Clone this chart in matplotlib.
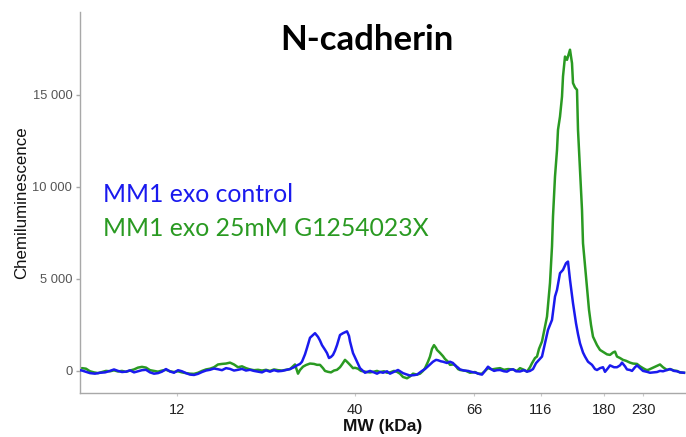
import matplotlib
matplotlib.use("Agg")
import matplotlib.pyplot as plt
from matplotlib.ticker import FuncFormatter

# Lane position (arbitrary migration units) and chemiluminescence signal
blue_pos = [78, 82, 86, 90, 95, 100, 105, 110, 114, 118, 122, 126, 130, 134, 138, 142, 146, 150, 154, 158,
            162, 166, 170, 174, 178, 182, 186, 190, 194, 198, 202, 206, 210, 214, 218, 222, 226, 230, 234, 238,
            242, 246, 250, 254, 258, 262, 266, 270, 274, 278, 282, 286, 290, 294, 297, 300, 302, 305, 307, 310,
            313, 315, 318, 320, 322, 325, 327, 329, 331, 333, 335, 337, 340, 343, 345, 347, 349, 350, 353, 357,
            360, 365, 370, 374, 377, 380, 383, 387, 390, 394, 398, 403, 406, 410, 414, 417, 420, 422, 425, 427,
            430, 433, 436, 438, 441, 443, 447, 450, 453, 455, 458, 460, 464, 468, 472, 476, 480, 482, 485, 488,
            491, 494, 497, 500, 504, 507, 510, 513, 516, 520, 524, 527, 530, 533, 536, 539, 542, 545, 548, 552,
            555, 557, 560, 563, 566, 568, 570, 573, 576, 578, 580, 583, 585, 588, 592, 595, 597, 600, 603, 605,
            608, 610, 614, 617, 620, 622, 625, 627, 630, 632, 635, 637, 640, 643, 647, 650, 654, 657, 660, 663,
            667, 670, 674, 677, 680, 684]
blue_val = [50, 20, -50, -120, -150, -100, -80, 0, 80, 0, -60, -40, 30, -80, -20, 40, 60, -80, -150, -120,
            -40, 100, -30, -100, 40, -20, -120, -200, -220, -160, -60, 20, 60, 130, 90, 40, 150, 110, 20, 60,
            110, 20, 60, 0, -40, -80, 30, -40, 40, -20, 0, 50, 100, 200, 300, 380, 500, 900, 1250, 1800,
            1950, 2050, 1850, 1650, 1400, 1150, 970, 700, 760, 870, 1100, 1400, 1950, 2050, 2100, 2150, 1900, 1600, 970, 500,
            150, -100, 0, -80, -150, -60, -100, -20, -150, -50, 50, -120, -180, -250, -230, -200, -80, 0, 100, 200,
            350, 500, 600, 580, 520, 500, 430, 500, 430, 300, 180, 80, 20, 0, -60, -100, -180, -200, 0, 230,
            100, 0, 40, 50, -20, -40, 60, 90, -20, -30, 40, -40, 0, 100, 420, 600, 780, 1500, 2230, 2770,
            4040, 4400, 5310, 5490, 5850, 5940, 4950, 3680, 2590, 2000, 1500, 1000, 780, 500, 330, 100, 50, 150, 200, -50,
            150, 300, 200, 200, 300, 450, 250, 80, 50, 0, 200, 300, 150, 0, -50, -100, -80, -60, 0, -20,
            50, 100, 0, -20, -80, -100]

green_pos = [78, 82, 86, 90, 94, 98, 102, 106, 110, 114, 118, 122, 126, 130, 134, 138, 142, 146, 150, 154,
             158, 162, 166, 170, 174, 178, 182, 186, 190, 194, 198, 202, 206, 210, 214, 218, 222, 226, 230, 234,
             238, 242, 246, 250, 254, 258, 262, 266, 270, 274, 278, 282, 286, 290, 293, 295, 298, 300, 303, 306,
             310, 314, 317, 320, 323, 325, 328, 331, 334, 337, 340, 342, 345, 347, 350, 353, 355, 358, 361, 363,
             367, 370, 374, 377, 380, 384, 387, 390, 394, 397, 400, 403, 407, 410, 413, 417, 420, 423, 425, 428,
             430, 432, 434, 436, 437, 440, 443, 445, 448, 450, 453, 455, 458, 460, 463, 466, 470, 475, 478, 482,
             485, 488, 492, 496, 500, 504, 508, 513, 517, 520, 524, 527, 530, 532, 535, 537, 539, 542, 545, 547,
             550, 552, 553, 555, 557, 558, 560, 562, 563, 565, 567, 568, 570, 572, 573, 575, 577, 578, 580, 582,
             583, 586, 589, 591, 593, 597, 600, 604, 607, 610, 613, 615, 617, 620, 623, 626, 630, 633, 637, 640,
             643, 646, 648, 652, 656, 660, 663, 667, 670, 674, 677, 680, 684]
green_val = [80, 150, 120, -20, -80, -120, -60, 0, -20, 30, -30, 0, -50, 20, 80, 180, 220, 180, 40, 0,
             -40, 20, 60, -20, -60, -20, -80, -120, -150, -160, -100, 0, 80, 120, 200, 350, 380, 400, 450, 350,
             200, 250, 150, 80, 40, 60, 20, 60, 0, 80, 40, 20, 60, 100, 250, 350, -150, 50, 230, 320,
             400, 380, 330, 330, 150, 0, -50, -80, 20, 60, 200, 350, 600, 500, 330, 150, 170, 120, 0, -20,
             -60, -80, -40, 0, -60, -20, -100, -80, 0, -50, -150, -330, -400, -300, -150, -200, -150, 0, 150, 500,
             780, 1200, 1400, 1250, 1140, 980, 800, 650, 500, 330, 350, 330, 100, 50, 30, 0, -100, -60, -150, -150,
             0, 150, 80, 120, 150, 60, 100, 80, 0, 150, 60, -40, 200, 420, 700, 780, 1200, 1600, 2400, 2950,
             4780, 6760, 8390, 10560, 12000, 13100, 13820, 14900, 16000, 17080, 16900, 17080, 17450, 16720, 15640, 15400, 15270, 13100, 10920, 8750,
             6940, 5130, 3320, 2500, 1860, 1400, 1140, 1000, 900, 870, 1000, 1050, 780, 700, 600, 550, 450, 400, 380, 250,
             150, 60, 50, 150, 250, 350, 200, 50, 100, 20, 0, -80, -100]

mw_tick_pos = [177, 355, 474, 541, 604, 643]
mw_tick_labels = ["12", "40", "66", "116", "180", "230"]
y_ticks = [0, 5000, 10000, 15000]

series_labels = ["MM1 exo control", "MM1 exo 25mM G1254023X"]
blue_c = "#1a1aee"
green_c = "#2a9a22"

fig = plt.figure(figsize=(6.86, 4.37), dpi=100)
ax = fig.add_axes([80/686, 44/437, 606/686, 381/437])
ax.plot(blue_pos, blue_val, color=blue_c, lw=1.8, zorder=3)
ax.plot(green_pos, green_val, color=green_c, lw=1.8, zorder=2)

ax.set_xlim(80, 686)
ax.set_ylim(-1200, 19500)
for s in ["top", "right"]:
    ax.spines[s].set_visible(False)
for s in ["left", "bottom"]:
    ax.spines[s].set_color("#a8a8a8")
    ax.spines[s].set_linewidth(1.0)

ax.set_yticks(y_ticks)
ax.yaxis.set_major_formatter(FuncFormatter(lambda v, p: f"{int(v):,}".replace(",", " ")))
ax.tick_params(axis="y", colors="#a8a8a8", labelcolor="#555555", labelsize=9.3, length=3, width=1, pad=2.5)
ax.set_xticks(mw_tick_pos)
ax.set_xticklabels(mw_tick_labels)
ax.tick_params(axis="x", colors="#c8c8c8", labelcolor="#222222", labelsize=10.5, length=2, width=0.8, pad=5)
for lab in ax.get_xticklabels() + ax.get_yticklabels():
    lab.set_family("Liberation Sans")

ax.set_ylabel("Chemiluminescence", fontsize=12.2, family="Liberation Sans", color="#111111")
ax.yaxis.set_label_coords(-51/606, 0.5)
ax.set_xlabel("MW (kDa)", fontsize=12.5, family="Liberation Sans", fontweight="bold", color="#111111", labelpad=2)

fig.text(367/686, 1 - 40/437, "N-cadherin", ha="center", va="center", fontsize=25,
         fontweight="bold", family="Lato", color="black")
fig.text(103/686, 1 - 194/437, series_labels[0], ha="left", va="center", fontsize=17.8,
         family="Lato", color=blue_c)
fig.text(103/686, 1 - 229/437, series_labels[1], ha="left", va="center", fontsize=17.8,
         family="Lato", color=green_c)

fig.savefig("out.png", dpi=100)
